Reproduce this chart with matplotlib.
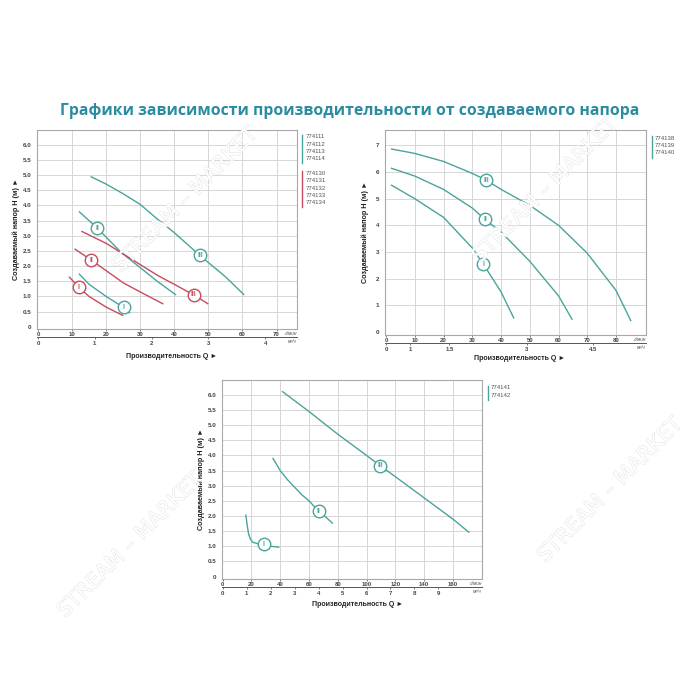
import matplotlib
matplotlib.use("Agg")
import matplotlib.pyplot as plt
import matplotlib.patheffects as pe

# --- chart 1: 774111-774114 (teal) and 774130-774134 (red); Q in l/min, H in m
c1_teal1_q = [12, 15, 20, 25, 27]
c1_teal1_h = [1.75, 1.4, 1.0, 0.65, 0.45]
c1_teal2_q = [12, 17.4, 24.4, 30, 35, 40.5]
c1_teal2_h = [3.8, 3.25, 2.45, 1.95, 1.5, 1.05]
c1_teal3_q = [15.4, 20, 25, 30, 35, 40, 47.5, 55, 60.5]
c1_teal3_h = [4.95, 4.7, 4.38, 4.03, 3.55, 3.1, 2.35, 1.65, 1.05]
c1_red1_q = [9.1, 12, 15, 20, 25]
c1_red1_h = [1.65, 1.3, 1.0, 0.65, 0.37]
c1_red2_q = [10.7, 15.6, 20, 25, 30, 36.8]
c1_red2_h = [2.57, 2.2, 1.85, 1.45, 1.15, 0.75]
c1_red3_q = [12.7, 20, 25, 30, 35, 40, 45.7, 50]
c1_red3_h = [3.15, 2.75, 2.4, 2.05, 1.7, 1.4, 1.05, 0.75]
c1_teal_lbl_q = [25.1, 17.4, 47.5]
c1_teal_lbl_h = [0.65, 3.25, 2.35]
c1_red_lbl_q = [12, 15.6, 45.7]
c1_red_lbl_h = [1.31, 2.2, 1.05]
c1_teal_models = ["774111", "774112", "774113", "774114"]
c1_red_models = ["774130", "774131", "774132", "774133", "774134"]
c1_xticks = [0, 10, 20, 30, 40, 50, 60, 70]
c1_yticks = [0, 0.5, 1.0, 1.5, 2.0, 2.5, 3.0, 3.5, 4.0, 4.5, 5.0, 5.5, 6.0]
c1_m3_ticks = [0, 1, 2, 3, 4]

# --- chart 2: 774138-774140
c2_1_q = [1.7, 10, 20, 30, 33.8, 40, 44.5]
c2_1_h = [5.52, 5.0, 4.3, 3.15, 2.55, 1.5, 0.5]
c2_2_q = [1.7, 10, 20, 30, 34.4, 40, 50, 60, 64.8]
c2_2_h = [6.15, 5.85, 5.35, 4.65, 4.22, 3.75, 2.65, 1.35, 0.45]
c2_3_q = [1.7, 10, 20, 30, 34.8, 40, 50, 60, 70, 80, 85.2]
c2_3_h = [6.87, 6.7, 6.4, 5.95, 5.7, 5.35, 4.75, 4.0, 2.95, 1.55, 0.4]
c2_lbl_q = [33.8, 34.4, 34.8]
c2_lbl_h = [2.53, 4.22, 5.7]
c2_models = ["774138", "774139", "774140"]
c2_xticks = [0, 10, 20, 30, 40, 50, 60, 70, 80]
c2_yticks = [0, 1, 2, 3, 4, 5, 6, 7]
# the m3/h row of this chart is printed at these l/min positions
c2_m3_pos = [0, 8.3, 22, 49, 71.8]
c2_m3_labels = ["0", "1", "1.5", "3", "4.5"]

# --- chart 3: 774141-774142
c3_1_q = [16, 17, 18, 19.5, 21, 25, 28.5, 33, 39.4]
c3_1_h = [2.05, 1.7, 1.4, 1.22, 1.13, 1.08, 1.06, 1.0, 0.97]
c3_2_q = [34.7, 40, 45, 50, 55, 60, 66.7, 72, 76.6]
c3_2_h = [3.92, 3.5, 3.2, 2.95, 2.7, 2.5, 2.16, 1.95, 1.75]
c3_3_q = [41.2, 60, 80, 100, 109.5, 120, 140, 160, 171.5]
c3_3_h = [6.12, 5.45, 4.7, 4.0, 3.66, 3.3, 2.6, 1.9, 1.45]
c3_lbl_q = [28.5, 66.7, 109.5]
c3_lbl_h = [1.06, 2.16, 3.66]
c3_models = ["774141", "774142"]
c3_xticks = [0, 20, 40, 60, 80, 100, 120, 140, 160]
c3_yticks = c1_yticks
c3_m3_ticks = [0, 1, 2, 3, 4, 5, 6, 7, 8, 9]

ROMAN = ["I", "II", "III"]
TEAL = "#4aa39c"
RED = "#c94a5c"
TITLE_C = "#2b8ca1"
FONT = ["Liberation Sans", "DejaVu Sans"]
W = H = 700.0


def rect(l, t, r, b):
	# pixel box -> figure fraction
	return [l / W, 1 - b / H, (r - l) / W, (b - t) / H]


def fmt(v):
	return "0" if v == 0 else "%.1f" % v


def base_axes(fig, box, xlim, ylim, xticks, yticks, ylabels, sec_loc, m3_pos, m3_lab, xlab_xy, ylab_x):
	ax = fig.add_axes(rect(*box))
	ax.set_xlim(*xlim)
	ax.set_ylim(*ylim)
	for s in ax.spines.values():
		s.set_color("#a8a8a8")
		s.set_linewidth(0.8)
	for x in xticks[1:]:
		ax.axvline(x, color="#d6d6d6", lw=0.7, zorder=0)
	for y in yticks[1:]:
		ax.axhline(y, color="#d6d6d6", lw=0.7, zorder=0)
	ax.set_xticks(xticks)
	ax.set_xticklabels([str(v) for v in xticks], fontsize=4.3, fontweight="bold", color="#444", family=FONT)
	ax.set_yticks(yticks)
	ax.set_yticklabels(ylabels, fontsize=4.5, fontweight="bold", color="#444", family=FONT)
	ax.tick_params(axis="y", length=0, pad=4)
	ax.tick_params(axis="x", length=1.5, width=0.6, pad=0.8, color="#666")

	sec = ax.secondary_xaxis(sec_loc)
	sec.spines["bottom"].set_color("#555")
	sec.spines["bottom"].set_linewidth(0.7)
	sec.set_xticks(m3_pos)
	sec.set_xticklabels(m3_lab, fontsize=4.3, fontweight="bold", color="#444", family=FONT)
	sec.tick_params(length=1.5, width=0.6, pad=1.5, color="#666")

	ax.text(1.0, -0.012, "л/мин", transform=ax.transAxes, ha="right", va="top",
		fontsize=3.4, style="italic", color="#555", family=FONT)
	ax.text(1.0, sec_loc - 0.012, "м³/ч", transform=ax.transAxes, ha="right", va="top",
		fontsize=3.4, style="italic", color="#555", family=FONT)

	ax.set_xlabel("Производительность Q ►", fontsize=5.0, fontweight="bold", color="#222", family=FONT)
	ax.xaxis.set_label_coords(*xlab_xy)
	ax.set_ylabel("Создаваемый напор H (м) ►", fontsize=5.2, fontweight="bold", color="#222", family=FONT)
	ax.yaxis.set_label_coords(ylab_x, 0.5)
	return ax


def curve(ax, q, h, color):
	ax.plot(q, h, color=color, lw=1.0, solid_capstyle="butt", zorder=3)


def marks(ax, q, h, color):
	for x, y, t in zip(q, h, ROMAN):
		ax.plot(x, y, "o", ms=9, mfc="white", mec=color, mew=1.0, zorder=4)
		ax.text(x, y, t, ha="center", va="center", fontsize=4.8, color=color,
			fontweight="bold", family=FONT, zorder=5)


def legend(ax, x, y_top, names, color, step=0.036):
	y_bot = y_top - step * (len(names) - 0.3)
	ax.plot([x, x], [y_top + 0.012, y_bot], color=color, lw=1.0, transform=ax.transAxes, clip_on=False)
	for i, n in enumerate(names):
		ax.text(x + 0.012, y_top - step * i, n, transform=ax.transAxes, ha="left", va="center",
			fontsize=4.3, color="#555", family=FONT)


def watermark(fig, x, y):
	fig.text(x / W, 1 - y / H, "STREAM – MARKET", rotation=45, ha="center", va="center",
		fontsize=15, color="white", family="DejaVu Sans", zorder=0,
		path_effects=[pe.withStroke(linewidth=0.6, foreground="#dedede")])


def main():
	fig = plt.figure(figsize=(7, 7), dpi=100)
	fig.patch.set_facecolor("white")

	fig.text(0.5, 1 - 111 / H, "Графики зависимости производительности от создаваемого напора",
		ha="center", va="center", fontsize=11.3, fontweight="bold", color=TITLE_C, family="Open Sans")

	# chart 1
	ax1 = base_axes(fig, (37, 130, 297, 329), (-0.3, 76), (-0.07, 6.48), c1_xticks, c1_yticks,
		[fmt(v) for v in c1_yticks], -0.04, [v / 0.06 for v in c1_m3_ticks], [str(v) for v in c1_m3_ticks],
		((172 - 37) / 260.0, -0.12), -0.065)
	curve(ax1, c1_teal1_q, c1_teal1_h, TEAL)
	curve(ax1, c1_teal2_q, c1_teal2_h, TEAL)
	curve(ax1, c1_teal3_q, c1_teal3_h, TEAL)
	curve(ax1, c1_red1_q, c1_red1_h, RED)
	curve(ax1, c1_red2_q, c1_red2_h, RED)
	curve(ax1, c1_red3_q, c1_red3_h, RED)
	marks(ax1, c1_teal_lbl_q, c1_teal_lbl_h, TEAL)
	marks(ax1, c1_red_lbl_q, c1_red_lbl_h, RED)
	legend(ax1, 1.02, 0.965, c1_teal_models, TEAL)
	legend(ax1, 1.02, 0.78, c1_red_models, RED)

	# chart 2
	ax2 = base_axes(fig, (385, 130, 646, 334.5), (-0.35, 90.4), (-0.1, 7.58), c2_xticks, c2_yticks,
		[str(v) for v in c2_yticks], -0.04, c2_m3_pos, c2_m3_labels,
		((520 - 385) / 261.0, -0.1), -0.06)
	curve(ax2, c2_1_q, c2_1_h, TEAL)
	curve(ax2, c2_2_q, c2_2_h, TEAL)
	curve(ax2, c2_3_q, c2_3_h, TEAL)
	marks(ax2, c2_lbl_q, c2_lbl_h, TEAL)
	legend(ax2, 1.023, 0.96, c2_models, TEAL, step=0.035)

	# chart 3
	ax3 = base_axes(fig, (222, 380, 482, 579), (-0.5, 180.3), (-0.08, 6.49), c3_xticks, c3_yticks,
		[fmt(v) for v in c3_yticks], -0.04, [v / 0.06 for v in c3_m3_ticks], [str(v) for v in c3_m3_ticks],
		((358 - 222) / 260.0, -0.11), -0.065)
	curve(ax3, c3_1_q, c3_1_h, TEAL)
	curve(ax3, c3_2_q, c3_2_h, TEAL)
	curve(ax3, c3_3_q, c3_3_h, TEAL)
	marks(ax3, c3_lbl_q, c3_lbl_h, TEAL)
	legend(ax3, 1.023, 0.96, c3_models, TEAL)

	for x, y in [(185, 200), (545, 190), (130, 545), (610, 490)]:
		watermark(fig, x, y)

	fig.savefig("out.png", dpi=100, facecolor="white")


if __name__ == '__main__':
	main()
